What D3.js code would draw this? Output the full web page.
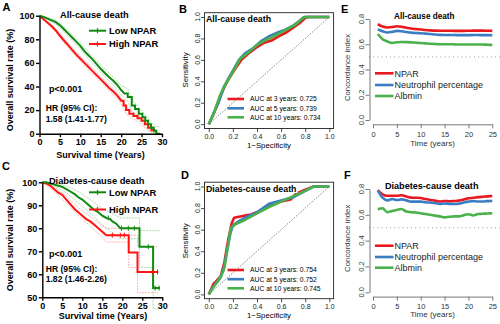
<!DOCTYPE html>
<html><head><meta charset="utf-8">
<script src="https://cdn.jsdelivr.net/npm/d3@7"></script>
<style>body{margin:0;background:#fff}svg{display:block}text{font-family:"Liberation Sans",Arial,sans-serif}</style>
</head><body><svg id="c" width="500" height="324"></svg>
<script>
// ---------- DATA ----------
const kmXTicks = [0,5,10,15,20,25,30];
const allYTicks = [0,20,40,60,80,100];
const diabYTicks = [50,60,70,80,90,100];
// Kaplan-Meier, all-cause [time, survival %]
const allLow = [[0,100],[1,99],[2,97.5],[3,96],[4,94.5],[5,92],[6,88.5],[7,85],[8,81.5],[9,78],[10,74.5],[11,70],[12,66.5],[13,63],[14,59],[15,55],[16,51.5],[17,48],[18,45],[19,41.5],[20,37],[20.8,34],[21.6,34],[21.6,31],[22.6,31],[22.6,24],[23.4,24],[23.4,21],[24.3,21],[24.3,17],[25.2,17],[25.2,14],[25.9,14],[25.9,11],[26.6,11],[26.6,8],[27.3,8],[27.3,5],[28,5],[28,2.5],[28.6,2.5],[28.6,0],[29.6,0]];
const allHigh = [[0,100],[1,97],[2,94],[3,91],[4,87.5],[5,83],[6,79],[7,75],[8,71],[9,67],[10,63.5],[11,60],[12,56.5],[13,53],[14,49.5],[15,46],[16,42.5],[17,39],[18,36],[19,32.5],[20,28],[20.6,28],[20.6,24],[21.2,24],[21.2,20],[22,20],[22,17],[23,17],[23,15],[24,15],[24,13],[25,13],[25,11],[25.8,11],[25.8,8],[26.6,8],[26.6,5],[27.4,5],[27.4,3],[28.4,3]];
// 95% CI [time, lower, upper]
const allLowCI = [[0,100,100],[2,96.5,98.5],[4,93,96],[6,86.5,90.5],[8,79,84],[10,72,77],[12,63.5,69.5],[14,56,62],[16,48.5,54.5],[18,41.5,48.5],[20,33,41],[21.6,28,38],[22.6,19,29],[23.4,16,26],[24.3,12,22],[25.9,6,16],[27.3,1.5,10],[28.6,0,6],[29.6,0,6]];
const allHighCI = [[0,100,100],[2,93,95],[4,86,89],[6,77,81],[8,69,73],[10,61.5,65.5],[12,54,59],[14,47,52],[16,40,45],[18,33.5,38.5],[20,25.5,30.5],[21.2,17,23],[22,14.5,20],[24,10.5,16],[25.8,5,11],[27.4,1,6],[28.4,1,6]];
// Kaplan-Meier, diabetes-cause
const diabLow = [[0,100],[1,100],[2,99.5],[3,99],[4,98.5],[5,98],[6,97],[7,96],[8,95],[9,93.5],[10,92.5],[11,91],[12,89.5],[13,88],[14,87],[15,85.5],[16,84.5],[17,84],[17.5,83],[18.5,82],[19.5,80],[24.3,80],[24.3,72],[27.7,72],[27.7,54],[29.4,54]];
const diabHigh = [[0,100],[1,99.5],[2,98.5],[3,97],[4,95.5],[5,94.5],[6,92.5],[7,90.5],[8,88.5],[9,87],[10,85.5],[11,84],[12,83],[13,81.5],[14,80],[15,78.5],[16,77],[21.6,77],[21.6,69.5],[23.8,69.5],[23.8,61],[29,61]];
const diabLowCI = [[0,100,100],[3,98.5,99.5],[6,95.5,98.5],[9,91,96],[12,86.5,92.5],[15,81.5,88.5],[18,77.5,86],[19.5,75.5,84.5],[24.3,75.5,84.5],[24.3,63,79],[27.7,63,79],[27.7,45,79],[29.4,45,79]];
const diabHighCI = [[0,100,100],[3,96,98],[6,91,94],[9,85.5,89],[12,81,85],[15,76,81],[16,74,80],[21.6,74,80],[21.6,63,77],[23.8,63,77],[23.8,52,72],[29,52,72]];
const diabLowCens = [16.5,19.8,21.5,23,26.5,28.2,29.2];
const diabHighCens = [17.5,19.5,20.5,27.5,28.8];
// ROC [1-specificity, sensitivity]
const rocTicks = [0,0.2,0.4,0.6,0.8,1];
const rocAll3 = [[0,0],[0.03,0.07],[0.06,0.15],[0.1,0.27],[0.13,0.35],[0.17,0.43],[0.22,0.52],[0.27,0.6],[0.33,0.66],[0.4,0.72],[0.46,0.76],[0.52,0.78],[0.58,0.82],[0.65,0.86],[0.7,0.9],[0.75,0.94],[0.8,0.99],[0.82,1],[1,1]];
const rocAll5 = [[0,0],[0.04,0.1],[0.08,0.2],[0.12,0.33],[0.16,0.42],[0.2,0.5],[0.25,0.6],[0.3,0.66],[0.37,0.71],[0.44,0.78],[0.5,0.82],[0.56,0.85],[0.63,0.88],[0.7,0.92],[0.76,0.97],[0.79,1],[1,1]];
const rocAll10 = [[0,0],[0.05,0.13],[0.09,0.26],[0.13,0.36],[0.18,0.45],[0.22,0.53],[0.26,0.61],[0.33,0.67],[0.4,0.74],[0.48,0.79],[0.56,0.83],[0.64,0.88],[0.72,0.93],[0.78,0.99],[0.8,1],[1,1]];
const rocDiab3 = [[0,0],[0.02,0.05],[0.04,0.1],[0.06,0.12],[0.1,0.17],[0.13,0.3],[0.16,0.5],[0.19,0.66],[0.21,0.71],[0.25,0.72],[0.3,0.73],[0.35,0.74],[0.42,0.77],[0.5,0.82],[0.6,0.86],[0.68,0.88],[0.72,0.93],[0.8,0.97],[0.87,1],[1,1]];
const rocDiab5 = [[0,0],[0.03,0.06],[0.08,0.13],[0.12,0.22],[0.15,0.4],[0.18,0.57],[0.2,0.64],[0.25,0.68],[0.3,0.71],[0.4,0.76],[0.5,0.84],[0.6,0.87],[0.7,0.9],[0.8,0.96],[0.87,1],[1,1]];
const rocDiab10 = [[0,0],[0.04,0.07],[0.1,0.16],[0.13,0.25],[0.16,0.45],[0.18,0.61],[0.22,0.65],[0.3,0.69],[0.4,0.75],[0.5,0.81],[0.6,0.86],[0.7,0.91],[0.8,0.96],[0.87,1],[1,1]];
const aucAllLabels = ["AUC at 3 years: 0.725","AUC at 5 years: 0.739","AUC at 10 years: 0.734"];
const aucDiabLabels = ["AUC at 3 years: 0.754","AUC at 5 years: 0.752","AUC at 10 years: 0.745"];
// Concordance index over time
const cTime = [1,2,3,4,5,6,7,8,9,10,11,12,13,14,15,16,17,18,19,20,21,22,23,24,25];
const cAllNPAR = [0.76,0.74,0.733,0.736,0.742,0.738,0.73,0.725,0.72,0.717,0.713,0.71,0.708,0.707,0.707,0.707,0.706,0.706,0.706,0.707,0.708,0.708,0.708,0.707,0.706];
const cAllNeut = [0.718,0.703,0.693,0.698,0.706,0.703,0.697,0.692,0.689,0.687,0.684,0.681,0.677,0.674,0.673,0.673,0.673,0.672,0.672,0.672,0.673,0.673,0.672,0.672,0.671];
const cAllAlb = [0.681,0.64,0.622,0.61,0.616,0.618,0.617,0.615,0.612,0.61,0.607,0.604,0.602,0.6,0.6,0.6,0.599,0.598,0.598,0.598,0.598,0.598,0.598,0.596,0.594];
const cDiabNPAR = [0.792,0.759,0.748,0.748,0.748,0.752,0.742,0.733,0.732,0.73,0.722,0.715,0.71,0.703,0.707,0.705,0.707,0.71,0.718,0.728,0.732,0.737,0.74,0.743,0.746];
const cDiabNeut = [0.79,0.733,0.712,0.722,0.715,0.72,0.712,0.702,0.702,0.702,0.697,0.695,0.69,0.684,0.688,0.685,0.684,0.686,0.695,0.702,0.706,0.703,0.703,0.706,0.707];
const cDiabAlb = [0.643,0.651,0.62,0.63,0.638,0.645,0.625,0.62,0.618,0.612,0.606,0.6,0.594,0.588,0.58,0.585,0.588,0.588,0.597,0.605,0.595,0.606,0.608,0.61,0.612];
const cXTicks = [0,5,10,15,20,25];
const cYTicks = [0,0.2,0.4,0.6,0.8];
const cLegend = ["NPAR","Neutrophil percentage","Albmin"];

// ---------- DRAW ----------
const svg = d3.select("#c");
const KMG = "#0f8a0f", KMR = "#ff1414", CIG = "#93d393", CIR = "#f7a3a3";
const RR = "#e8191f", RB = "#3b7dc2", RG = "#4bb24b";
const fmt1 = d3.format(".1f");

function text(g, x, y, s, size, bold, anchor) {
  return g.append("text").attr("x", x).attr("y", y).text(s)
    .attr("font-size", size).attr("font-weight", bold ? "bold" : "normal")
    .attr("text-anchor", anchor || "start");
}
function rtext(g, x, y, s, size, bold) {
  return g.append("text").attr("transform", `translate(${x},${y}) rotate(-90)`)
    .attr("text-anchor", "middle").text(s).attr("font-size", size)
    .attr("font-weight", bold ? "bold" : "normal");
}

function kmPanel(p) {
  const g = svg.append("g");
  const x = d3.scaleLinear().domain([0, 30]).range(p.xr);
  const y = d3.scaleLinear().domain(p.yd).range(p.yr);
  const ciLine = k => d3.line().x(d => x(d[0])).y(d => y(d[k]));
  [[p.highCI, CIR], [p.lowCI, CIG]].forEach(([arr, c]) => {
    [1, 2].forEach(k => g.append("path").attr("d", ciLine(k)(arr)).attr("fill", "none")
      .attr("stroke", c).attr("stroke-width", 0.8).attr("stroke-dasharray", "2,1"));
  });
  const ln = d3.line().x(d => x(d[0])).y(d => y(d[1]));
  g.append("path").attr("d", ln(p.high)).attr("fill", "none").attr("stroke", KMR).attr("stroke-width", 2);
  g.append("path").attr("d", ln(p.low)).attr("fill", "none").attr("stroke", KMG).attr("stroke-width", 2);
  const survAt = (arr, t) => { let v = arr[0][1]; arr.forEach(d => { if (d[0] <= t) v = d[1]; }); return v; };
  if (p.lowCens) {
    [[p.lowCens, p.low, KMG], [p.highCens, p.high, KMR]].forEach(([cs, arr, c]) => {
      cs.forEach(t => g.append("line").attr("x1", x(t)).attr("x2", x(t))
        .attr("y1", y(survAt(arr, t)) - 2.5).attr("y2", y(survAt(arr, t)) + 2.5)
        .attr("stroke", c).attr("stroke-width", 1));
    });
  }
  const ya = g.append("g").attr("transform", `translate(${p.xr[0]},0)`)
    .call(d3.axisLeft(y).tickValues(p.yt).tickSize(3.5).tickSizeOuter(0).tickPadding(1.5));
  const xa = g.append("g").attr("transform", `translate(0,${p.yr[0]})`)
    .call(d3.axisBottom(x).tickValues(kmXTicks).tickSize(3.5).tickSizeOuter(0).tickPadding(1.5));
  [ya, xa].forEach(a => {
    a.selectAll("path,line").attr("stroke", "#000").attr("stroke-width", 1.4);
    a.selectAll("text").attr("font-size", 9).attr("font-weight", "bold").attr("fill", "#000")
      .style("font-family", '"Liberation Sans",Arial,sans-serif');
  });
  text(g, p.letter[1], p.letter[2], p.letter[0], 11, true);
  text(g, p.title[1], p.title[2], p.title[0], 9.3, true, "middle");
  p.leg.forEach((L, i) => {
    g.append("line").attr("x1", 89).attr("x2", 106).attr("y1", L.y).attr("y2", L.y)
      .attr("stroke", L.c).attr("stroke-width", 2);
    g.append("line").attr("x1", 97.5).attr("x2", 97.5).attr("y1", L.y - 2.5).attr("y2", L.y + 2.5)
      .attr("stroke", L.c).attr("stroke-width", 1.2);
    text(g, 109, L.y + 3.3, L.t, 9.4, true);
  });
  text(g, 49, p.pY, "p<0.001", 9, true);
  text(g, 45.7, p.hrY, "HR (95% CI):", 8.6, true);
  text(g, 45.7, p.hrY + 10.5, p.hr, 8.6, true);
  rtext(g, 13.3, p.ylabY, "Overall survival rate (%)", 9, true);
  text(g, p.xlab[0], p.xlab[1], "Survival time (Years)", 9, true, "middle");
}

kmPanel({xr: [39.5, 162], yd: [0, 100], yr: [133.7, 15.7], yt: allYTicks,
  low: allLow, high: allHigh, lowCI: allLowCI, highCI: allHighCI,
  letter: ["A", 2.5, 10.5], title: ["All-cause death", 94.3, 17.5],
  leg: [{y: 30.7, t: "Low NPAR", c: KMG}, {y: 44, t: "High NPAR", c: KMR}],
  pY: 92, hrY: 111, hr: "1.58 (1.41-1.77)", ylabY: 80, xlab: [100.5, 157.5]});
kmPanel({xr: [42.3, 162.3], yd: [50, 100], yr: [297.3, 182.3], yt: diabYTicks,
  low: diabLow, high: diabHigh, lowCI: diabLowCI, highCI: diabHighCI,
  lowCens: diabLowCens, highCens: diabHighCens,
  letter: ["C", 2, 169.5], title: ["Diabetes-cause death", 96.7, 184],
  leg: [{y: 192.3, t: "Low NPAR", c: KMG}, {y: 209.5, t: "High NPAR", c: KMR}],
  pY: 256.5, hrY: 271.5, hr: "1.82 (1.46-2.26)", ylabY: 240, xlab: [103, 318.5]});

function rocPanel(p) {
  const g = svg.append("g");
  const x = d3.scaleLinear().domain([0, 1]).range([208.8, 329.3]);
  const y = d3.scaleLinear().domain([0, 1]).range(p.yr);
  const bx0 = 204.5, bx1 = 333.6, by0 = p.yr[1] - 4.3, by1 = p.yr[0] + 4.3;
  g.append("line").attr("x1", x(0)).attr("y1", y(0)).attr("x2", x(1)).attr("y2", y(1))
    .attr("stroke", "#666").attr("stroke-width", 0.8).attr("stroke-dasharray", "1.5,1.5");
  const ln = d3.line().x(d => x(d[0])).y(d => y(d[1]));
  [[p.c3, RR], [p.c5, RB], [p.c10, RG]].forEach(([arr, c]) =>
    g.append("path").attr("d", ln(arr)).attr("fill", "none").attr("stroke", c)
      .attr("stroke-width", 2.6).attr("stroke-linejoin", "round"));
  g.append("rect").attr("x", bx0).attr("y", by0).attr("width", bx1 - bx0).attr("height", by1 - by0)
    .attr("fill", "none").attr("stroke", "#222").attr("stroke-width", 0.9);
  const ya = g.append("g").attr("transform", `translate(${bx0},0)`)
    .call(d3.axisLeft(y).tickValues(rocTicks).tickFormat(fmt1).tickSize(3.5).tickSizeOuter(0));
  ya.select(".domain").remove();
  ya.selectAll("text").remove();
  ya.selectAll("line").attr("stroke", "#222").attr("stroke-width", 0.8);
  rocTicks.forEach(v => rtext(g, bx0 - 5, y(v), fmt1(v), 7, false).attr("fill", "#222"));
  const xa = g.append("g").attr("transform", `translate(0,${by1})`)
    .call(d3.axisBottom(x).tickValues(rocTicks).tickFormat(fmt1).tickSize(3.5).tickSizeOuter(0).tickPadding(2.3));
  xa.select(".domain").remove();
  xa.selectAll("line").attr("stroke", "#222").attr("stroke-width", 0.8);
  xa.selectAll("text").attr("font-size", 7).attr("fill", "#222")
      .style("font-family", '"Liberation Sans",Arial,sans-serif');
  const bg = g.append("rect").attr("fill", "#fff");
  const t = text(g, 206, p.titleY, p.title, 8.8, true);
  const bb = t.node().getBBox();
  bg.attr("x", bb.x - 1).attr("y", bb.y + 0.5).attr("width", bb.width + 2).attr("height", bb.height - 1);
  text(g, p.letter[1], p.letter[2], p.letter[0], 11, true);
  rtext(g, 187.8, p.ylabY, "Sensitivity", 7.8, false);
  text(g, 269, p.xlabY, "1\u2212Specificity", 7.8, false, "middle");
  [RR, RB, RG].forEach((c, i) => {
    const ly = p.legY[i];
    g.append("line").attr("x1", 227.5).attr("x2", 244).attr("y1", ly).attr("y2", ly)
      .attr("stroke", c).attr("stroke-width", 2.6);
    text(g, 250, ly + 2.4, p.labels[i], 6.8, false);
  });
}
rocPanel({yr: [124.2, 17], c3: rocAll3, c5: rocAll5, c10: rocAll10, title: "All-cause death",
  titleY: 21.5, letter: ["B", 179, 13], ylabY: 70, xlabY: 147.8, legY: [99, 108.3, 117.3], labels: aucAllLabels});
rocPanel({yr: [294.4, 186.5], c3: rocDiab3, c5: rocDiab5, c10: rocDiab10, title: "Diabetes-cause death",
  titleY: 191.5, letter: ["D", 181, 179], ylabY: 240.8, xlabY: 317.8, legY: [270, 279.2, 288.3], labels: aucDiabLabels});

function cPanel(p) {
  const g = svg.append("g");
  const x = d3.scaleLinear().domain([0, 25]).range([373, 492.3]);
  const y = d3.scaleLinear().domain([0, 0.8]).range(p.yr);
  const axX = 369.5, axY = p.yr[0] + 4.3;
  g.append("line").attr("x1", 369).attr("x2", 500).attr("y1", y(0.5)).attr("y2", y(0.5))
    .attr("stroke", "#999").attr("stroke-width", 1).attr("stroke-dasharray", "1,3.2");
  const ln = d3.line().x((d, i) => x(cTime[i])).y(d => y(d)).curve(d3.curveMonotoneX);
  [[p.a, RR], [p.b, RB], [p.c, RG]].forEach(([arr, c]) =>
    g.append("path").attr("d", ln(arr)).attr("fill", "none").attr("stroke", c).attr("stroke-width", 2.6));
  const ya = g.append("g").attr("transform", `translate(${axX},0)`)
    .call(d3.axisLeft(y).tickValues(cYTicks).tickFormat(fmt1).tickSize(4).tickSizeOuter(0));
  ya.selectAll("text").remove();
  ya.selectAll("path,line").attr("stroke", "#777").attr("stroke-width", 1);
  cYTicks.forEach(v => rtext(g, axX - 5.5, y(v), fmt1(v), 7.5, false).attr("fill", "#333"));
  const xa = g.append("g").attr("transform", `translate(0,${axY})`)
    .call(d3.axisBottom(x).tickValues(cXTicks).tickSize(4).tickSizeOuter(0).tickPadding(3.5));
  xa.selectAll("path,line").attr("stroke", "#777").attr("stroke-width", 1);
  xa.selectAll("text").attr("font-size", 7.5).attr("fill", "#333")
      .style("font-family", '"Liberation Sans",Arial,sans-serif');
  text(g, p.letter[1], p.letter[2], p.letter[0], 11, true);
  text(g, p.title[1], p.title[2], p.title[0], p.title[3], true, "middle");
  rtext(g, 350, p.ylabY, "Concordance index", 7.8, false).attr("fill", "#333");
  text(g, 432.5, p.xlabY, "Time (years)", 8, false, "middle").attr("fill", "#333");
  [RR, RB, RG].forEach((c, i) => {
    const ly = p.legY[i];
    g.append("line").attr("x1", 375).attr("x2", 393.5).attr("y1", ly).attr("y2", ly)
      .attr("stroke", c).attr("stroke-width", 2.6);
    text(g, 394.5, ly + 3.2, cLegend[i], 9, false).attr("fill", "#222");
  });
}
cPanel({yr: [120, 19], a: cAllNPAR, b: cAllNeut, c: cAllAlb, letter: ["E", 341, 13],
  title: ["All-cause death", 424.3, 18.5, 8.2], ylabY: 67.5, xlabY: 146, legY: [73.3, 85, 96]});
cPanel({yr: [292.3, 189], a: cDiabNPAR, b: cDiabNeut, c: cDiabAlb, letter: ["F", 344, 179],
  title: ["Diabetes-cause death", 431.7, 189.3, 9.1], ylabY: 238.3, xlabY: 317, legY: [245.7, 257, 267.7]});
</script></body></html>
